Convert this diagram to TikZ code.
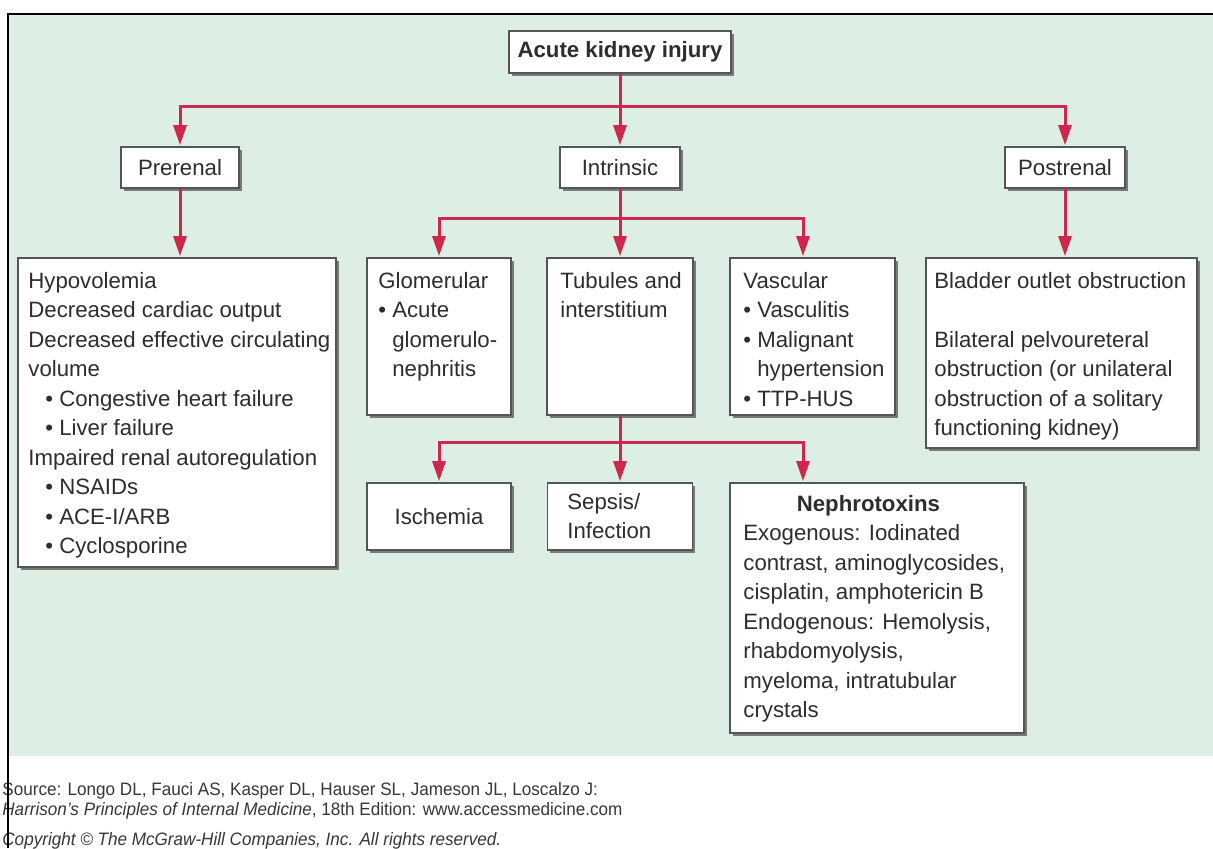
\documentclass[tikz,border=0pt]{standalone}
\usepackage{fontspec}
\setmainfont{Liberation Sans}
\newfontfamily\footfont[FakeStretch=0.95]{Liberation Sans}
\usetikzlibrary{arrows.meta,shadows}
\definecolor{bggreen}{RGB}{221,238,228}
\definecolor{arrred}{RGB}{206,38,76}
\definecolor{boxline}{RGB}{85,85,85}
\definecolor{txtcol}{RGB}{45,45,45}
\definecolor{footcol}{RGB}{55,55,55}
\newcommand\mainsize{\fontsize{11.1pt}{14.75pt}\selectfont}
\newcommand\firststrut{\rule{0pt}{9pt}}
\newcommand\bulsp{\hphantom{•}\ }
\newcommand\bulin{\hspace*{8.5pt}}
\tikzset{
  box/.style={draw=boxline, fill=white, line width=0.7pt, inner sep=0pt,
    text=txtcol, font=\mainsize,
    drop shadow={shadow xshift=1.4pt, shadow yshift=-1.4pt, fill=black!60, opacity=0.85}},
  txt/.style={inner sep=0pt, align=left, anchor=north west, text=txtcol, font=\mainsize},
  conn/.style={draw=arrred, line width=1.5pt, line join=miter},
  arr/.style={conn, -{Triangle[length=10pt,width=6.5pt]}, shorten >=0.6pt},
  foot/.style={inner sep=0pt, anchor=base west, text=footcol, font=\footfont\fontsize{9pt}{10pt}\selectfont},
}
\begin{document}
\begin{tikzpicture}[x=0.5pt, y=-0.5pt]
\useasboundingbox (0,0) rectangle (1213,848);
\fill[white] (0,0) rectangle (1213,848);
\fill[bggreen] (9,15.3) rectangle (1213,756);

% boxes
\node[box, minimum width=111pt, minimum height=21pt, font=\mainsize\bfseries] (aki) at (620,52) {Acute kidney injury};
\node[box, minimum width=59pt, minimum height=20.5pt] (pre) at (180,167.5) {Prerenal};
\node[box, minimum width=60pt, minimum height=20.5pt] (intr) at (620,167.5) {Intrinsic};
\node[box, minimum width=60pt, minimum height=20.5pt] (post) at (1065,167.5) {Postrenal};
\node[box, minimum width=159pt, minimum height=154.5pt] (hypo) at (177,412.5) {};
\node[box, minimum width=72pt, minimum height=78.5pt] (glom) at (439,336.5) {};
\node[box, minimum width=73pt, minimum height=78.5pt] (tub) at (620,336.5) {};
\node[box, minimum width=82.5pt, minimum height=78.5pt] (vasc) at (812.5,336.5) {};
\node[box, minimum width=135.5pt, minimum height=95pt] (blad) at (1061.5,353) {};
\node[box, minimum width=72pt, minimum height=33.5pt] (isch) at (439,516.5) {Ischemia};
\node[box, minimum width=72.5pt, minimum height=33.5pt] (seps) at (620,516.5) {};
\node[box, minimum width=147pt, minimum height=125pt] (neph) at (877,608) {};

% box texts
\node[txt] (hypoT) at (28,270) {\firststrut Hypovolemia\\
Decreased cardiac output\\
Decreased effective circulating\\
volume\\
\bulin• Congestive heart failure\\
\bulin• Liver failure\\
Impaired renal autoregulation\\
\bulin• NSAIDs\\
\bulin• ACE-I/ARB\\
\bulin• Cyclosporine};
\node[txt] (glomT) at (378,270) {\firststrut Glomerular\\• Acute\\\bulsp glomerulo-\\\bulsp nephritis};
\node[txt] (tubT) at (560,270) {\firststrut Tubules and\\interstitium};
\node[txt] (vascT) at (743,270) {\firststrut Vascular\\• Vasculitis\\• Malignant\\\bulsp hypertension\\• TTP-HUS};
\node[txt] (bladT) at (934,270) {\firststrut Bladder outlet obstruction\\[14.75pt]
Bilateral pelvoureteral\\
obstruction (or unilateral\\
obstruction of a solitary\\
functioning kidney)};
\node[txt] (sepsT) at (567,491) {\firststrut Sepsis/\\Infection};
\node[txt] (nephT) at (743,493) {\firststrut\makebox[125pt][c]{\bfseries Nephrotoxins}\\
Exogenous: Iodinated\\
contrast, aminoglycosides,\\
cisplatin, amphotericin B\\
Endogenous: Hemolysis,\\
rhabdomyolysis,\\
myeloma, intratubular\\
crystals};

% connectors
\coordinate (j1) at (620,106);
\coordinate (j2) at (620,218);
\coordinate (j3) at (620,442);
\coordinate (v2) at (803,218);
\coordinate (v3) at (803,442);
\draw[conn] (aki.south) -- (j1);
\draw[arr] (j1) -| (pre.north);
\draw[arr] (j1) -| (post.north);
\draw[arr] (j1) -- (intr.north);
\draw[arr] (pre.south) -- (pre.south |- hypo.north);
\draw[arr] (post.south) -- (post.south |- blad.north);
\draw[conn] (intr.south) -- (j2);
\draw[arr] (j2) -| (glom.north);
\draw[arr] (j2) -- (tub.north);
\draw[arr] (j2) -- (v2) -- (v2 |- vasc.north);
\draw[conn] (tub.south) -- (j3);
\draw[arr] (j3) -| (isch.north);
\draw[arr] (j3) -- (seps.north);
\draw[arr] (j3) -- (v3) -- (v3 |- neph.north);

% footer
\node[foot] (src1) at (2,795) {Source: Longo DL, Fauci AS, Kasper DL, Hauser SL, Jameson JL, Loscalzo J:};
\node[foot] (src2) at (2,815) {\textit{Harrison’s Principles of Internal Medicine}, 18th Edition: www.accessmedicine.com};
\node[foot] (copy) at (2,845) {\textit{Copyright © The McGraw-Hill Companies, Inc. All rights reserved.}};

% frame
\draw[black, line width=1.3pt] (7.8,848) -- (7.8,14) -- (1213,14);
\end{tikzpicture}
\end{document}
